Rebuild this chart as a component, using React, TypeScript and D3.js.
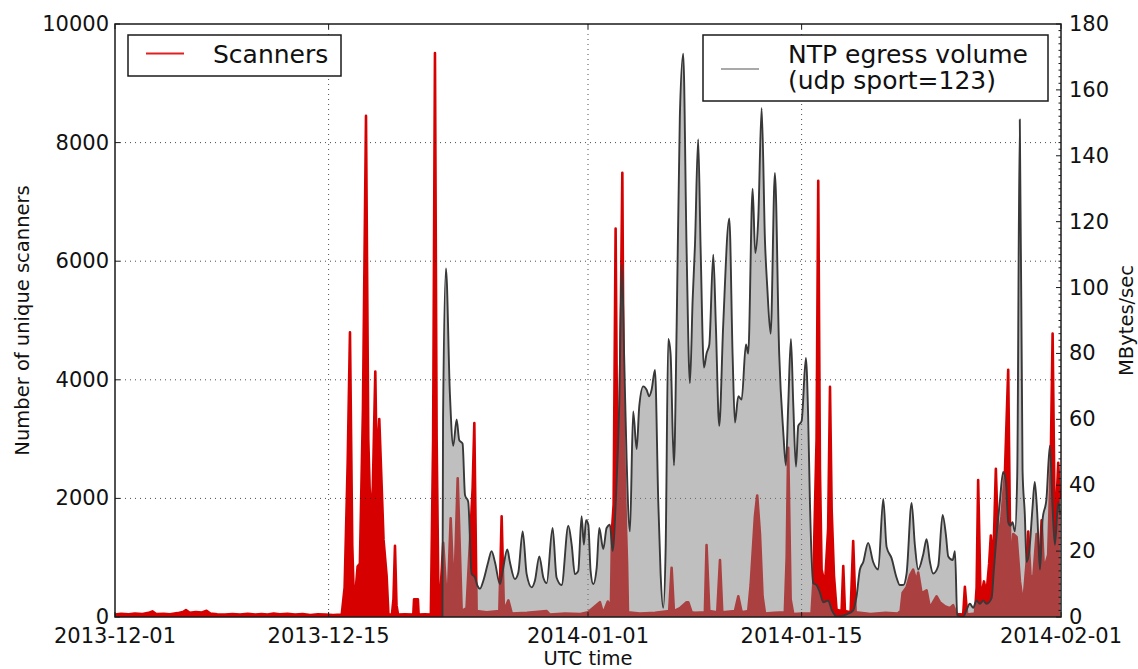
import React from 'react';
import * as d3 from 'd3';

// days since 2013-12-01 00:00 UTC, and unique scanner counts (left axis)
const scanDay = [
  0, 0.4, 0.9, 1.3, 1.8, 2.2, 2.45, 2.7, 3.2, 3.6, 4.1, 4.5, 4.65, 4.9, 5.3, 5.7, 6.0, 6.25, 6.7, 7.2,
  7.7, 8.2, 8.7, 9.2, 9.6, 10.0, 10.4, 10.8, 11.3, 11.8, 12.3, 12.8, 13.3, 13.8, 14.3, 14.86,
  15.05, 15.25, 15.4, 15.55, 15.68, 15.79, 15.9, 16.05, 16.25, 16.45, 16.6, 16.75, 16.9, 17.06, 17.15,
  17.32, 17.45, 17.6, 17.8, 17.92, 18.15, 18.25, 18.35, 18.45, 18.55, 19.0, 19.55, 19.6, 19.85, 19.9,
  20.3, 20.7, 20.85, 20.97, 21.08, 21.2, 21.35, 21.51, 21.78, 22.0, 22.22, 22.46, 22.72, 23.04, 23.31,
  23.44, 23.55, 23.7, 24.36, 25.19, 25.34, 25.49, 25.78, 26.0, 27.0, 28.29, 28.5, 29.5, 30.5, 31.0,
  31.78, 31.99, 32.3, 32.5, 32.58, 32.68, 32.81, 32.92, 33.05, 33.25, 33.35, 33.49, 33.56, 33.62, 34.4,
  35.4, 36.32, 36.48, 36.63,
  37.02, 37.46, 37.57, 37.79, 38.0, 38.66, 38.77, 38.95, 39.47, 39.65, 39.8, 40.63, 40.85, 41.07, 41.5,
  41.66, 41.94, 42.09, 42.27, 42.44, 42.6, 43.2, 43.9, 44.02, 44.12, 44.28, 44.45, 45.0, 45.65, 45.76,
  45.98, 46.09, 46.2, 46.31, 46.53, 46.74, 46.86, 46.97, 47.12, 47.29, 47.62, 47.73, 47.84, 48.21, 48.38,
  48.54, 49.26, 49.5, 50.5, 51.3, 51.49, 51.62, 51.88, 52.1, 52.31, 52.53, 52.64, 52.86, 53.19, 53.41,
  53.62, 53.85, 54.06, 54.39, 54.72, 54.93, 55.16, 55.59, 55.7, 55.85, 56.36, 56.47, 56.57, 56.73, 56.95,
  57.12, 57.29, 57.4, 57.56, 57.73, 57.88, 58.1, 58.32, 58.54, 58.69, 58.87, 59.09, 59.31, 59.52, 59.74,
  59.85, 60.0, 60.18, 60.4, 60.57, 60.73, 60.88, 61.16, 61.32, 61.45, 61.6, 61.82, 61.93,
];
const scanCount = [
  40, 55, 45, 60, 50, 70, 95, 50, 55, 45, 65, 90, 115, 70, 85, 75, 105, 60, 45, 40,
  50, 40, 55, 40, 50, 40, 60, 45, 55, 40, 50, 35, 45, 40, 35, 40,
  500, 2600, 4800, 1200, 90, 500, 850, 900, 3500, 8450, 3000, 1600, 2200, 4140, 2500,
  3340, 2400, 1300, 700, 40, 40, 300, 1200, 200, 40, 45, 40, 300, 300, 40,
  45, 40, 3000, 9510, 3000, 300, 500, 1250, 100, 1665, 280, 2340, 100, 150, 1500,
  2180, 3270, 100, 80, 100, 1700, 100, 280, 60, 70, 100, 40, 60, 50, 80,
  250, 60, 260, 180, 1500, 1900, 6550, 2500, 2700, 7490, 3000, 1500, 900, 80, 60,
  70, 100, 830, 100,
  150, 250, 250, 80, 70, 80, 1215, 100, 80, 960, 80, 100, 350, 80, 100,
  540, 1700, 2050, 1400, 350, 60, 70, 80, 1000, 2855, 300, 50, 60, 60, 540,
  3000, 7355, 2500, 800, 540, 1500, 3880, 1800, 700, 120, 100, 860, 100, 80, 1280,
  80, 60, 50, 70, 60, 100, 410, 500, 700, 800, 600, 750, 400, 450, 150,
  250, 350, 250, 180, 150, 200, 50, 40, 510, 40, 60, 500, 2310, 300, 600,
  400, 900, 1375, 900, 2500, 1250, 1700, 2400, 4170, 700, 1400, 1350, 600, 200, 900,
  1440, 700, 650, 1400, 800, 1630, 800, 1050, 2500, 4780, 1300, 2600, 2000,
];

// days since 2013-12-01, and NTP egress volume in MBytes/sec (right axis)
const ntpDay = [
  21.46, 21.5, 21.69, 21.95, 22.17, 22.39, 22.56, 22.78, 22.94, 23.15, 23.37, 23.59, 23.74, 23.92, 24.14,
  24.46, 24.68, 24.9, 25.23, 25.41, 25.71, 25.88, 26.21, 26.43, 26.72, 26.98, 27.31, 27.52, 27.81, 28.07,
  28.29, 28.68, 28.94, 29.27, 29.71, 29.93, 30.14, 30.36, 30.58, 30.73, 30.87, 31.02, 31.17, 31.34, 31.57,
  31.74, 32.0, 32.22, 32.44, 32.61, 32.83, 33.05, 33.22, 33.38, 33.53, 33.75, 33.96, 34.19, 34.36, 34.62,
  34.84, 35.01, 35.17, 35.39, 35.6, 35.76, 35.93, 36.09, 36.26, 36.41, 36.63, 36.81, 37.02, 37.24, 37.46,
  37.68, 37.86, 38.01, 38.22, 38.38, 38.6, 38.77, 38.95, 39.21, 39.38, 39.6, 39.86, 40.26, 40.48, 40.63,
  40.85, 41.07, 41.35, 41.5, 41.79, 41.96, 42.16, 42.38, 42.6, 42.75, 42.97, 43.25, 43.53, 43.8, 43.97,
  44.12, 44.3, 44.45, 44.63, 44.78, 45.0, 45.28, 45.43, 45.54, 45.76, 45.98, 46.2, 46.42, 46.74, 46.97,
  47.29, 47.73, 48.05, 48.38, 48.6, 48.82, 49.04, 49.36, 49.69, 50.02, 50.35, 50.57, 50.9, 51.22, 51.44,
  51.66, 51.88, 52.21, 52.42, 52.64, 52.97, 53.19, 53.41, 53.62, 53.95, 54.24, 54.46, 54.61, 54.9, 55.05,
  55.2, 55.59, 55.81, 56.03, 56.24, 56.47, 56.68, 56.9, 57.12, 57.45, 57.6, 57.78, 57.99, 58.21, 58.39,
  58.54, 58.69, 58.82, 58.98, 59.13, 59.3, 59.48, 59.63, 59.74, 59.91, 60.13, 60.28, 60.44, 60.62, 60.79,
  61.05, 61.27, 61.45, 61.6, 61.82, 61.93,
];
const ntpRate = [
  0, 60, 105.8, 67.6, 52, 60, 53.7, 52.6, 37, 35, 13.2, 12, 9.7, 8.6, 11,
  16.7, 20, 16.7, 10, 14, 20.5, 16.7, 11.5, 13.4, 26, 13, 9, 11, 18.4, 12,
  10.3, 27, 12, 9.7, 27.7, 22, 13, 14, 30.6, 22, 29.4, 28, 14, 10, 15,
  27, 20.6, 27, 28, 20, 36, 65, 107, 77, 48, 26, 62.4, 51, 64, 70,
  69, 67, 69, 75, 36, 13, 2.8, 21, 84.4, 80, 46, 88, 152, 171, 112,
  71, 96.5, 112.8, 145, 112, 75.7, 80, 82.7, 110, 88.5, 58, 88.5, 121, 79, 59,
  67, 66, 82.7, 80, 130, 110.5, 121, 154.5, 114, 100, 86, 134.8, 80, 56, 46,
  64, 84.4, 65, 45.6, 58, 59.5, 78.6, 60.7, 36, 10.3, 9.7, 7.4, 4.5, 5, 2.2,
  0.2, 0.4, 1, 2, 6.3, 14.4, 16.7, 22.5, 16.7, 14.4, 35.8, 21.3, 17.8, 12, 9.7,
  9.7, 13.2, 34.6, 22, 14.4, 19, 23.6, 16.7, 13.2, 15.5, 31, 24.8, 18.4, 17.3, 20,
  0.5, 0, 2.2, 4, 2.8, 5, 4, 5, 4, 5.7, 14.4, 24.8, 35, 44, 41,
  28.8, 27.7, 28.8, 26, 42.7, 151, 44.5, 31, 16.7, 19.6, 33, 41, 31.7, 14.4, 29.4,
  36, 52, 33, 21.9, 35, 31,
];

const xTickDays = [0, 14, 31, 45, 62];
const leftTicks = [0, 2000, 4000, 6000, 8000, 10000];
const rightTicks = [0, 20, 40, 60, 80, 100, 120, 140, 160, 180];

const W = 1138;
const H = 669;
const M = { left: 115, right: 1061, top: 24, bottom: 617 };
const FONT = 'DejaVu Sans, sans-serif';
const INK = '#111';
const RED = '#d70000';

const t0 = Date.UTC(2013, 11, 1);
const toDate = (d: number) => new Date(t0 + d * 864e5);

const App = () => {
  const x = d3.scaleUtc().domain([toDate(0), toDate(62)]).range([M.left, M.right]);
  const yL = d3.scaleLinear().domain([0, 10000]).range([M.bottom, M.top]);
  const yR = d3.scaleLinear().domain([0, 180]).range([M.bottom, M.top]);
  const fmt = d3.utcFormat('%Y-%m-%d');

  const scans: [number, number][] = scanDay.map((d, i) => [d, scanCount[i]]);
  const ntp: [number, number][] = ntpDay.map((d, i) => [d, ntpRate[i]]);

  const scanArea = d3
    .area<[number, number]>()
    .x((p) => x(toDate(p[0])))
    .y0(yL(0))
    .y1((p) => yL(p[1]));
  const scanEdge = d3
    .line<[number, number]>()
    .x((p) => x(toDate(p[0])))
    .y((p) => yL(p[1]));
  const ntpArea = d3
    .area<[number, number]>()
    .curve(d3.curveMonotoneX)
    .x((p) => x(toDate(p[0])))
    .y0(yR(0))
    .y1((p) => yR(p[1]));
  const ntpLine = d3
    .line<[number, number]>()
    .curve(d3.curveMonotoneX)
    .x((p) => x(toDate(p[0])))
    .y((p) => yR(p[1]));

  const minorTicks = d3.range(0, 181, 2).filter((v) => v % 20 !== 0);

  return (
    <svg width={W} height={H} style={{ position: 'absolute', left: 0, top: 0, background: '#fff' }}>
      <defs>
        <clipPath id="plot">
          <rect x={M.left} y={M.top} width={M.right - M.left} height={M.bottom - M.top} />
        </clipPath>
      </defs>
      <rect x={0} y={0} width={W} height={H} fill="#fff" />

      <g clipPath="url(#plot)">
        {/* scanners, left axis */}
        <path d={scanArea(scans) || ''} fill={RED} />
        <path d={scanEdge(scans) || ''} fill="none" stroke={RED} strokeWidth={2.6} strokeLinejoin="round" />

        {/* grid */}
        <g stroke="#000" strokeWidth={1} strokeDasharray="1,4" opacity={0.7}>
          {leftTicks.slice(1, -1).map((v) => (
            <line key={'gy' + v} x1={M.left} x2={M.right} y1={yL(v)} y2={yL(v)} />
          ))}
          {xTickDays.slice(1, -1).map((d) => (
            <line key={'gx' + d} x1={x(toDate(d))} x2={x(toDate(d))} y1={M.top} y2={M.bottom} />
          ))}
        </g>

        {/* NTP volume, right axis */}
        <path d={ntpArea(ntp) || ''} fill="rgb(128,128,128)" fillOpacity={0.5} />
        <path d={ntpLine(ntp) || ''} fill="none" stroke="#383838" strokeWidth={1.9} strokeLinejoin="round" />
      </g>

      {/* frame */}
      <rect
        x={M.left}
        y={M.top}
        width={M.right - M.left}
        height={M.bottom - M.top}
        fill="none"
        stroke="#1a1a1a"
        strokeWidth={1.5}
      />

      {/* ticks */}
      <g stroke="#1a1a1a" strokeWidth={1}>
        {xTickDays.map((d) => (
          <g key={'xt' + d}>
            <line x1={x(toDate(d))} x2={x(toDate(d))} y1={M.bottom} y2={M.bottom - 5} />
            <line x1={x(toDate(d))} x2={x(toDate(d))} y1={M.top} y2={M.top + 5} />
          </g>
        ))}
        {leftTicks.map((v) => (
          <line key={'lt' + v} x1={M.left} x2={M.left + 5} y1={yL(v)} y2={yL(v)} />
        ))}
        {rightTicks.map((v) => (
          <line key={'rt' + v} x1={M.right} x2={M.right - 5} y1={yR(v)} y2={yR(v)} />
        ))}
        {minorTicks.map((v) => (
          <line key={'rm' + v} x1={M.right} x2={M.right - 2.5} y1={yR(v)} y2={yR(v)} />
        ))}
      </g>

      <g fontFamily={FONT} fontSize={21} fill={INK}>
        {xTickDays.map((d) => (
          <text key={'xl' + d} x={x(toDate(d))} y={643} textAnchor="middle">
            {fmt(toDate(d))}
          </text>
        ))}
        {leftTicks.map((v) => (
          <text key={'ll' + v} x={109} y={yL(v) + 7} textAnchor="end">
            {v}
          </text>
        ))}
        {rightTicks.map((v) => (
          <text key={'rl' + v} x={1069} y={yR(v) + 7} textAnchor="start">
            {v}
          </text>
        ))}
      </g>

      <g fontFamily={FONT} fontSize={19.5} fill={INK}>
        <text x={(M.left + M.right) / 2} y={665} textAnchor="middle">
          UTC time
        </text>
        <text transform={`translate(29,${(M.top + M.bottom) / 2}) rotate(-90)`} textAnchor="middle">
          Number of unique scanners
        </text>
        <text transform={`translate(1133,${(M.top + M.bottom) / 2}) rotate(-90)`} textAnchor="middle">
          MBytes/sec
        </text>
      </g>

      {/* legends */}
      <g fontFamily={FONT} fontSize={25} fill={INK}>
        <rect x={128} y={35} width={213} height={41} fill="#fff" stroke="#1a1a1a" strokeWidth={1.5} />
        <line x1={146} x2={184} y1={53.5} y2={53.5} stroke="#e02020" strokeWidth={2} />
        <text x={213} y={62.5}>Scanners</text>

        <rect x={703} y={35} width={345} height={66} fill="#fff" stroke="#1a1a1a" strokeWidth={1.5} />
        <line x1={721} x2={759} y1={69} y2={69} stroke="#555" strokeWidth={1.2} />
        <text x={788} y={62.5}>NTP egress volume</text>
        <text x={788} y={89}>(udp sport=123)</text>
      </g>
    </svg>
  );
};

export default App;
